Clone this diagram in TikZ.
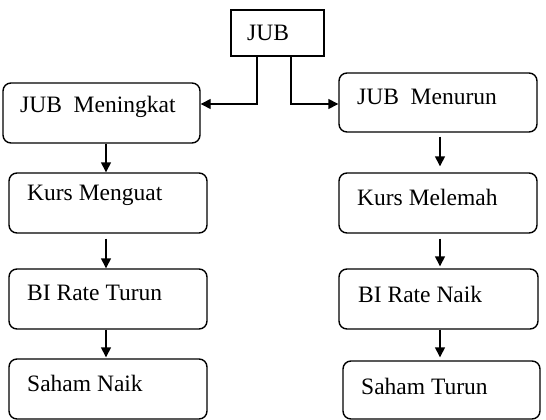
\documentclass[tikz,border=0pt]{standalone}
\usepackage{fontspec}
\setmainfont{Liberation Serif}
\usetikzlibrary{arrows.meta}
\tikzset{
  box/.style={draw, line width=1.4pt, rounded corners=8pt, inner sep=0pt},
  sqbox/.style={draw, line width=1.4pt, inner sep=0pt},
  txt/.style={anchor=west, inner sep=0pt, font=\fontsize{23.5}{26}\selectfont},
  conn/.style={line width=1.4pt, -{Triangle[length=10pt,width=10pt]}}
}
\begin{document}
\begin{tikzpicture}[x=1pt,y=-1pt]
\useasboundingbox (0,0) rectangle (546,420);
% top box
\node[sqbox, minimum width=93pt, minimum height=46pt] (jub) at (277.5,33) {};
\node[txt] (tjub) at (247,33) {JUB};
% left column
\node[box, minimum width=197pt, minimum height=60pt] (m1) at (101.5,113) {};
\node[txt] (tm1) at (20,107) {JUB\ \ Meningkat};
\node[box, minimum width=198pt, minimum height=60pt] (m2) at (108,203) {};
\node[txt] (tm2) at (27,195) {Kurs Menguat};
\node[box, minimum width=198pt, minimum height=60pt] (m3) at (108,299) {};
\node[txt] (tm3) at (27,293) {BI Rate Turun};
\node[box, minimum width=198pt, minimum height=60pt] (m4) at (108,389) {};
\node[txt] (tm4) at (27,383) {Saham Naik};
% right column
\node[box, minimum width=198pt, minimum height=59pt] (r1) at (438,102.5) {};
\node[txt] (tr1) at (357,97) {JUB\ \ Menurun};
\node[box, minimum width=198pt, minimum height=60pt] (r2) at (438,203) {};
\node[txt] (tr2) at (357,197) {Kurs Melemah};
\node[box, minimum width=199pt, minimum height=60pt] (r3) at (438.5,299) {};
\node[txt] (tr3) at (358,294) {BI Rate Naik};
\node[box, minimum width=197pt, minimum height=58pt] (r4) at (441.5,390) {};
\node[txt] (tr4) at (361,386) {Saham Turun};
% connectors from top
\draw[conn] ([xshift=-20.5pt]jub.south) |- (m1.east |- 0,104);
\draw[conn] ([xshift=13.5pt]jub.south) |- (r1.west |- 0,104);
% left chain
\draw[conn] (m1.south -| 106,0) -- (m2.north -| 106,0);
\draw[conn] ([yshift=-5pt]m2.south -| 106,0) -- (m3.north -| 106,0);
\draw[conn] (m3.south -| 106,0) -- ([yshift=1pt]m4.north -| 106,0);
% right chain
\draw[conn] ([yshift=-4pt]r1.south -| 440,0) -- ([yshift=6pt]r2.north -| 440,0);
\draw[conn] ([yshift=-5pt]r2.south -| 440,0) -- ([yshift=2pt]r3.north -| 440,0);
\draw[conn] (r3.south -| 440,0) -- ([yshift=3pt]r4.north -| 440,0);
\end{tikzpicture}
\end{document}
